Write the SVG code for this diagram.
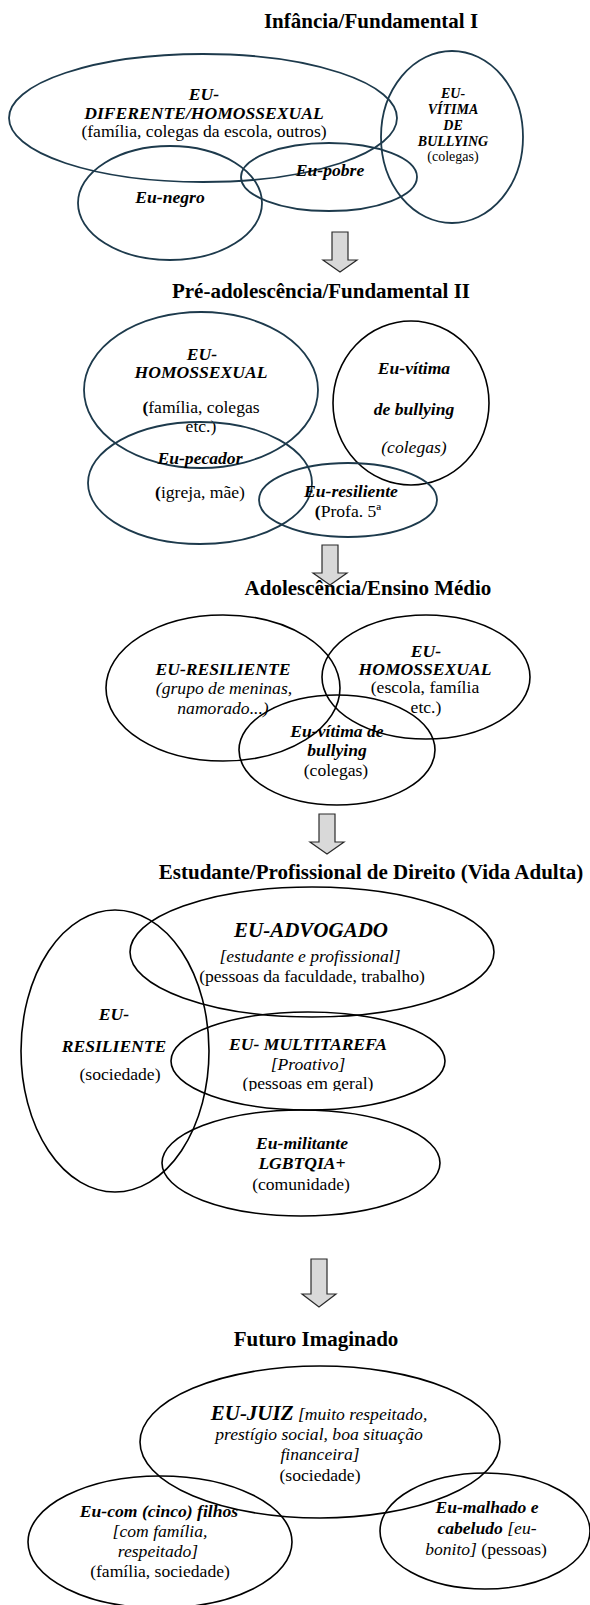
<svg xmlns="http://www.w3.org/2000/svg" width="590" height="1605" viewBox="0 0 590 1605">
<style>
text{font-family:"Liberation Serif","Times New Roman",serif;fill:#000;text-anchor:middle}
.t{font-size:21px;font-weight:bold}
.b{font-size:17.6px}
.bi{font-size:17.6px;font-weight:bold;font-style:italic}
.i{font-size:17.6px;font-style:italic}
.big{font-size:21px;font-weight:bold;font-style:italic}
.s{font-size:14px}
.sbi{font-size:14px;font-weight:bold;font-style:italic}
.n{fill:none;stroke:#1d3a4c;stroke-width:1.8}
.k{fill:none;stroke:#000;stroke-width:1.6}
.arr{fill:#d9d9d9;stroke:#2b2b2b;stroke-width:1.2}
</style>
<defs>
<clipPath id="clipGeral"><rect x="170" y="1060" width="290" height="31"/></clipPath>
</defs>

<g id="titles">
<text class="t" x="371" y="28">Infância/Fundamental I</text>
<text class="t" x="321" y="298">Pré-adolescência/Fundamental II</text>
<text class="t" x="368" y="595">Adolescência/Ensino Médio</text>
<text class="t" x="371" y="879">Estudante/Profissional de Direito (Vida Adulta)</text>
<text class="t" x="316" y="1346">Futuro Imaginado</text>
</g>

<!-- Section 1 -->
<g id="s1-diferente">
<ellipse class="n" cx="203" cy="118" rx="194" ry="64"/>
<text class="bi" x="204" y="100">EU-</text>
<text class="bi" x="204" y="119">DIFERENTE/HOMOSSEXUAL</text>
<text class="b" x="204" y="137">(família, colegas da escola, outros)</text>
</g>
<g id="s1-vitima">
<ellipse class="n" cx="452" cy="137" rx="71" ry="86"/>
<text class="sbi" x="453" y="98">EU-</text>
<text class="sbi" x="453" y="114">VÍTIMA</text>
<text class="sbi" x="453" y="130">DE</text>
<text class="sbi" x="453" y="146">BULLYING</text>
<text class="s" x="453" y="161">(colegas)</text>
</g>
<g id="s1-negro">
<ellipse class="n" cx="170" cy="203" rx="92" ry="57"/>
<text class="bi" x="170" y="203">Eu-negro</text>
</g>
<g id="s1-pobre">
<ellipse class="n" cx="329" cy="177" rx="88" ry="34"/>
<text class="bi" x="330" y="176">Eu-pobre</text>
</g>

<!-- Section 2 -->
<g id="s2-homossexual">
<ellipse class="n" cx="201" cy="390" rx="117" ry="78"/>
<text class="bi" x="202" y="360">EU-</text>
<text class="bi" x="201" y="378">HOMOSSEXUAL</text>
<text class="b" x="201" y="413"><tspan font-weight="bold">(</tspan>família, colegas</text>
<text class="b" x="201" y="432">etc.)</text>
</g>
<g id="s2-vitima">
<ellipse class="k" cx="411" cy="403" rx="78" ry="82"/>
<text class="bi" x="414" y="374">Eu-vítima</text>
<text class="bi" x="414" y="415">de bullying</text>
<text class="i" x="414" y="453">(colegas)</text>
</g>
<g id="s2-pecador">
<ellipse class="n" cx="200" cy="483" rx="112" ry="61"/>
<text class="bi" x="200" y="464">Eu-pecador</text>
<text class="b" x="200" y="498"><tspan font-weight="bold">(</tspan>igreja, mãe)</text>
</g>
<g id="s2-resiliente">
<ellipse class="n" cx="348" cy="500" rx="89" ry="37"/>
<text class="bi" x="351" y="497">Eu-resiliente</text>
<text class="b" x="348" y="517"><tspan font-weight="bold">(</tspan>Profa. 5ª</text>
</g>

<!-- Section 3 -->
<g id="s3-resiliente">
<ellipse class="k" cx="223" cy="688" rx="117" ry="73"/>
<text class="bi" x="223" y="675">EU-RESILIENTE</text>
<text class="i" x="224" y="694">(grupo de meninas,</text>
<text class="i" x="223" y="714">namorado...)</text>
</g>
<g id="s3-homossexual">
<ellipse class="k" cx="426" cy="677" rx="104" ry="62"/>
<text class="bi" x="426" y="657">EU-</text>
<text class="bi" x="425" y="675">HOMOSSEXUAL</text>
<text class="b" x="425" y="693">(escola, família</text>
<text class="b" x="426" y="713">etc.)</text>
</g>
<g id="s3-vitima">
<ellipse class="k" cx="337" cy="750" rx="98" ry="55"/>
<text class="bi" x="337" y="737">Eu-vítima de</text>
<text class="bi" x="337" y="756">bullying</text>
<text class="b" x="336" y="776">(colegas)</text>
</g>

<!-- Section 4 -->
<g id="s4-advogado">
<ellipse class="k" cx="312" cy="952" rx="182" ry="65"/>
<text class="big" x="311" y="937">EU-ADVOGADO</text>
<text class="i" x="310" y="962">[estudante e profissional]</text>
<text class="b" x="312" y="982">(pessoas da faculdade, trabalho)</text>
</g>
<g id="s4-resiliente">
<ellipse class="k" cx="115" cy="1051" rx="94" ry="141"/>
<text class="bi" x="114" y="1020">EU-</text>
<text class="bi" x="114" y="1052">RESILIENTE</text>
<text class="b" x="120" y="1080">(sociedade)</text>
</g>
<g id="s4-multitarefa">
<ellipse class="k" cx="308" cy="1061" rx="137" ry="49"/>
<text class="bi" x="308" y="1050">EU- MULTITAREFA</text>
<text class="i" x="308" y="1070">[Proativo]</text>
<text class="b" x="308" y="1089" clip-path="url(#clipGeral)">(pessoas em geral)</text>
</g>
<g id="s4-militante">
<ellipse class="k" cx="301" cy="1163" rx="139" ry="53"/>
<text class="bi" x="302" y="1149">Eu-militante</text>
<text class="bi" x="302" y="1169">LGBTQIA+</text>
<text class="b" x="301" y="1190">(comunidade)</text>
</g>

<!-- Section 5 -->
<g id="s5-juiz">
<ellipse class="k" cx="320" cy="1442" rx="180" ry="76"/>
<text x="319" y="1420"><tspan class="big">EU-JUIZ</tspan><tspan class="i"> [muito respeitado,</tspan></text>
<text class="i" x="319" y="1440">prestígio social, boa situação</text>
<text class="i" x="320" y="1460">financeira]</text>
<text class="b" x="320" y="1481">(sociedade)</text>
</g>
<g id="s5-filhos">
<ellipse class="k" cx="160" cy="1542" rx="132" ry="66"/>
<text class="bi" x="159" y="1517">Eu-com (cinco) filhos</text>
<text class="i" x="160" y="1537">[com família,</text>
<text class="i" x="158" y="1557">respeitado]</text>
<text class="b" x="160" y="1577">(família, sociedade)</text>
</g>
<g id="s5-malhado">
<ellipse class="k" cx="485" cy="1531" rx="105" ry="58"/>
<text class="bi" x="487" y="1513">Eu-malhado e</text>
<text x="487" y="1534"><tspan class="bi">cabeludo</tspan><tspan class="i"> [eu-</tspan></text>
<text x="486" y="1555"><tspan class="i">bonito]</tspan><tspan class="b"> (pessoas)</tspan></text>
</g>

<g id="connectors">
<path class="arr" d="M332,232 H348 V260 H357 L340,272 L323,260 H332 Z"/>
<path class="arr" d="M322,545 H338 V573 H347 L330,585 L313,573 H322 Z"/>
<path class="arr" d="M319,814 H335 V842 H344 L327,854 L310,842 H319 Z"/>
<path class="arr" d="M311,1259 H327 V1294 H336 L319,1307 L302,1294 H311 Z"/>
</g>
</svg>
